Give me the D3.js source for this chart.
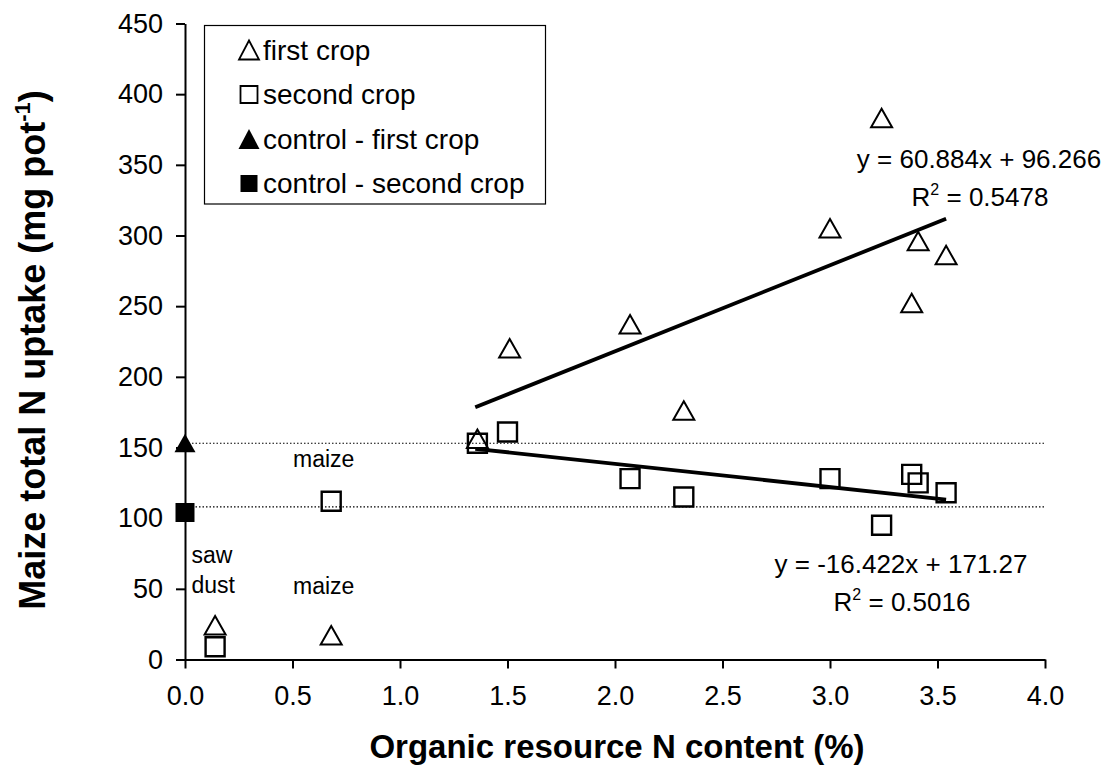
<!DOCTYPE html>
<html><head><meta charset="utf-8">
<script src="https://cdn.jsdelivr.net/npm/d3@7"></script>
<style>
html,body{margin:0;padding:0;background:#fff;}
text{font-family:"Liberation Sans",Arial,sans-serif;fill:#000;}
</style></head>
<body>
<svg id="chart" width="1108" height="768"></svg>
<script>
// ---- data ----
const xTicks = [0, 0.5, 1, 1.5, 2, 2.5, 3, 3.5, 4];
const yTicks = [0, 50, 100, 150, 200, 250, 300, 350, 400, 450];
const firstX = [0.14, 0.68, 1.36, 1.51, 2.07, 2.32, 3.00, 3.24, 3.38, 3.41, 3.54];
const firstY = [24, 17, 156, 220, 237, 176, 305, 383, 252, 296, 286];
const secondX = [0.14, 0.68, 1.36, 1.50, 2.07, 2.32, 3.00, 3.24, 3.38, 3.41, 3.54];
const secondY = [9, 112, 153, 161, 128, 115, 128, 95, 131, 125, 118];
const controlX = [0];
const controlFirstY = [153];
const controlSecondY = [104];
const refLines = [153, 108];
const trendRange = [1.35, 3.54];
const trendFirst = [60.884, 96.266];
const trendSecond = [-16.422, 171.27];
const legendLabels = ["first crop", "second crop", "control - first crop", "control - second crop"];
const notes = [
  {t:"maize", x:0.645, y:136, anchor:"middle"},
  {t:"saw", x:0.03, y:68, anchor:"start"},
  {t:"dust", x:0.03, y:47, anchor:"start"},
  {t:"maize", x:0.645, y:46, anchor:"middle"}
];

// ---- layout ----
const svg = d3.select("#chart");
const L = 185, R = 1045, T = 23.5, B = 659.5;
const x = d3.scaleLinear().domain([0, 4]).range([L, R]);
const y = d3.scaleLinear().domain([0, 450]).range([B, T]);

// reference dotted lines
svg.selectAll("line.ref").data(refLines).join("line")
  .attr("x1", x(0)).attr("x2", x(4))
  .attr("y1", d => y(d)).attr("y2", d => y(d))
  .attr("stroke", "#000").attr("stroke-width", 1.2).attr("stroke-dasharray", "1.5,2");

// axes
const yAxis = d3.axisLeft(y).tickValues(yTicks).tickSize(9).tickSizeOuter(0).tickPadding(13).tickFormat(d3.format("d"));
const gy = svg.append("g").attr("transform", `translate(${L},0)`).call(yAxis);
const xAxis = d3.axisBottom(x).tickValues(xTicks).tickSize(9).tickSizeOuter(0).tickPadding(17).tickFormat(d3.format(".1f"));
const gx = svg.append("g").attr("transform", `translate(0,${B})`).call(xAxis);
[gx, gy].forEach(g => {
  g.select(".domain").attr("stroke", "#000").attr("stroke-width", 2);
  g.selectAll(".tick line").attr("stroke", "#000").attr("stroke-width", 2);
  g.selectAll(".tick text").attr("font-size", 27).attr("font-family", '"Liberation Sans",Arial,sans-serif').attr("fill", "#000");
});

// trend lines
function trend(c) { return trendRange.map(v => [x(v), y(c[0] * v + c[1])]); }
[trendFirst, trendSecond].forEach(c => {
  svg.append("path").attr("d", d3.line()(trend(c)))
    .attr("stroke", "#000").attr("stroke-width", 3.8).attr("fill", "none");
});

// markers
const tri = "M0,-9.5L10.5,9L-10.5,9Z";
const sq = "M-9.5,-9.5H9.5V9.5H-9.5Z";
svg.selectAll("path.t1").data(firstX).join("path")
  .attr("d", tri).attr("transform", (d, i) => `translate(${x(d)},${y(firstY[i])})`)
  .attr("fill", "none").attr("stroke", "#000").attr("stroke-width", 2);
svg.selectAll("path.s2").data(secondX).join("path")
  .attr("d", sq).attr("transform", (d, i) => `translate(${x(d)},${y(secondY[i])})`)
  .attr("fill", "none").attr("stroke", "#000").attr("stroke-width", 2.4);
svg.selectAll("path.cf").data(controlX).join("path")
  .attr("d", tri).attr("transform", (d, i) => `translate(${x(d)},${y(controlFirstY[i])})`)
  .attr("fill", "#000");
svg.selectAll("path.cs").data(controlX).join("path")
  .attr("d", sq).attr("transform", (d, i) => `translate(${x(d)},${y(controlSecondY[i])})`)
  .attr("fill", "#000");

// annotations
svg.selectAll("text.note").data(notes).join("text")
  .attr("x", d => x(d.x)).attr("y", d => y(d.y))
  .attr("text-anchor", d => d.anchor).attr("font-size", 23).text(d => d.t);

// equations
function eq(cx, by, coef) {
  svg.append("text").attr("x", cx).attr("y", by).attr("text-anchor", "middle").attr("font-size", 26)
    .text(`y = ${coef[0]}x + ${coef[1]}`);
}
eq(979, 168, trendFirst);
eq(901, 573, trendSecond);
function r2(cx, by, v) {
  const t = svg.append("text").attr("x", cx).attr("y", by).attr("text-anchor", "middle").attr("font-size", 26);
  t.append("tspan").text("R");
  t.append("tspan").attr("font-size", 16).attr("dy", -11).text("2");
  t.append("tspan").attr("dy", 11).text(" = " + v);
}
r2(980, 206, "0.5478");
r2(902, 611, "0.5016");

// legend
svg.append("rect").attr("x", 204.5).attr("y", 25.5).attr("width", 341).attr("height", 178.5)
  .attr("fill", "#fff").attr("stroke", "#000").attr("stroke-width", 1.2);
const legShapes = [
  {d: "M0,-9.5L10,9.5L-10,9.5Z", fill: "none"},
  {d: "M-8.5,-8.5H8.5V8.5H-8.5Z", fill: "none"},
  {d: "M0,-10L10.5,10L-10.5,10Z", fill: "#000"},
  {d: "M-8.5,-8.5H8.5V8.5H-8.5Z", fill: "#000"}
];
legendLabels.forEach((lab, i) => {
  const cy = 50 + i * 44.5;
  svg.append("path").attr("d", legShapes[i].d).attr("transform", `translate(249,${cy})`)
    .attr("fill", legShapes[i].fill).attr("stroke", legShapes[i].fill === "none" ? "#000" : "none").attr("stroke-width", 1.8);
  svg.append("text").attr("x", 263).attr("y", cy + 9.5).attr("font-size", 28).text(lab);
});

// axis titles
svg.append("text").attr("x", 617).attr("y", 758).attr("text-anchor", "middle")
  .attr("font-size", 33).attr("font-weight", "bold").text("Organic resource N content (%)");
const yt = svg.append("text").attr("transform", "translate(45,350) rotate(-90)").attr("text-anchor", "middle")
  .attr("font-size", 36).attr("font-weight", "bold");
yt.append("tspan").text("Maize total N uptake (mg pot");
yt.append("tspan").attr("font-size", 22).attr("dy", -15).text("-1");
yt.append("tspan").attr("dy", 15).text(")");
</script>
</body></html>
